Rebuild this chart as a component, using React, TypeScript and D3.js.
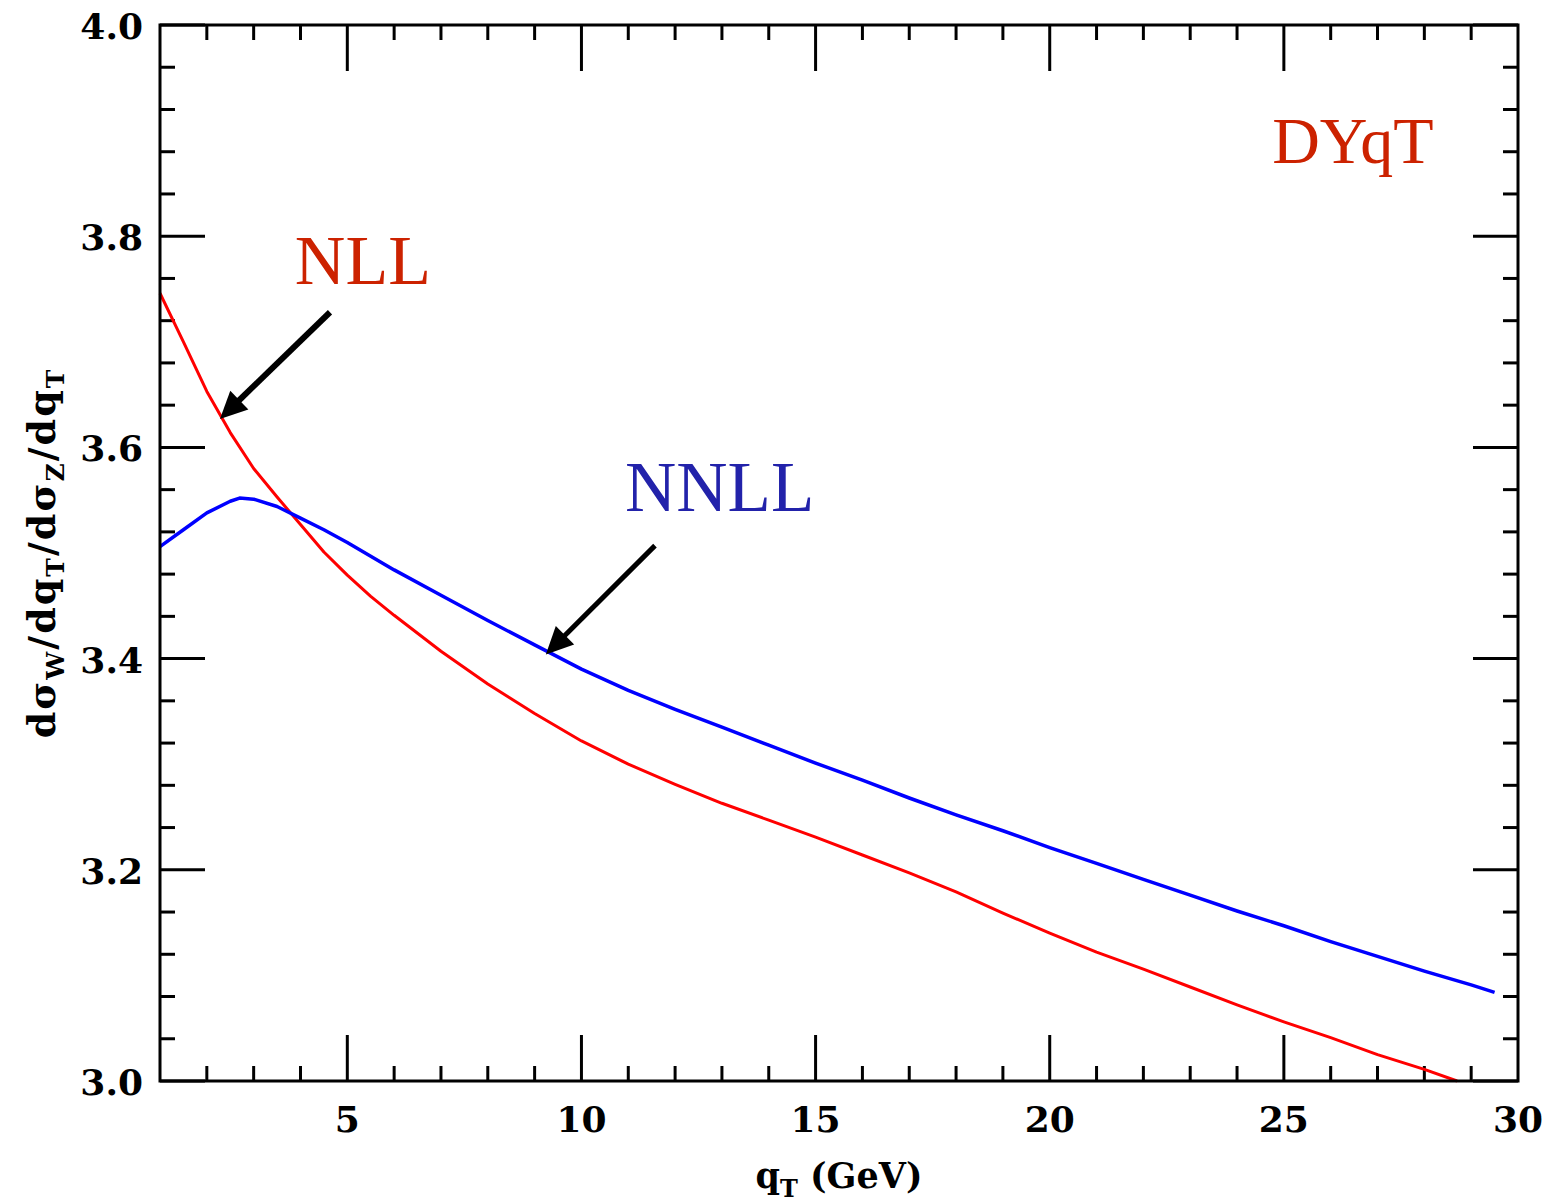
import React from "react";
import * as d3 from "d3";

const width = 1550;
const height = 1203;
const margin = { top: 25, right: 32, bottom: 122, left: 160 };

// qT grid (GeV) and the two ratio curves
const qtNLL = [1, 1.5, 2, 2.5, 3, 3.5, 4, 4.5, 5, 5.5, 6, 7, 8, 9, 10, 11, 12, 13, 14, 15, 16, 17, 18, 19, 20, 21, 22, 23, 24, 25, 26, 27, 28, 28.7];
const ratioNLL = [3.746, 3.7, 3.653, 3.614, 3.58, 3.553, 3.527, 3.501, 3.479, 3.459, 3.441, 3.407, 3.376, 3.348, 3.322, 3.3, 3.281, 3.263, 3.247, 3.231, 3.214, 3.197, 3.179, 3.159, 3.14, 3.122, 3.106, 3.089, 3.072, 3.056, 3.041, 3.025, 3.011, 3.0];

const qtNNLL = [1, 1.5, 2, 2.5, 2.7, 3, 3.5, 4, 4.5, 5, 6, 7, 8, 9, 10, 11, 12, 13, 14, 15, 16, 17, 18, 19, 20, 21, 22, 23, 24, 25, 26, 27, 28, 29, 29.5];
const ratioNNLL = [3.506, 3.522, 3.538, 3.549, 3.552, 3.551, 3.544, 3.533, 3.522, 3.51, 3.484, 3.46, 3.436, 3.413, 3.39, 3.37, 3.352, 3.335, 3.318, 3.301, 3.285, 3.268, 3.252, 3.237, 3.221, 3.206, 3.191, 3.176, 3.161, 3.147, 3.132, 3.118, 3.104, 3.091, 3.084];

const xMajor = [5, 10, 15, 20, 25, 30];
const yMajor = [3.0, 3.2, 3.4, 3.6, 3.8, 4.0];

// annotations, in data units: [tailQt, tailRatio, tipQt, tipRatio]
const arrowNLL = [4.63, 3.728, 2.28, 3.627];
const arrowNNLL = [11.57, 3.507, 9.24, 3.404];

const labelFont = "'DejaVu Serif', serif";
const romanFont = "'Liberation Serif', 'Times New Roman', serif";

function Arrow(props) {
  const { a, xScale, yScale, w } = props;
  const x0 = xScale(a[0]);
  const y0 = yScale(a[1]);
  const x1 = xScale(a[2]);
  const y1 = yScale(a[3]);
  const len = Math.hypot(x1 - x0, y1 - y0);
  const ux = (x1 - x0) / len;
  const uy = (y1 - y0) / len;
  const headLen = 27;
  const half = 13;
  const bx = x1 - ux * headLen;
  const by = y1 - uy * headLen;
  const pts = [
    [x1, y1],
    [bx - uy * half, by + ux * half],
    [bx + uy * half, by - ux * half]
  ];
  return (
    <g>
      <line x1={x0} y1={y0} x2={bx + ux * 2} y2={by + uy * 2} stroke="black" strokeWidth={w} />
      <polygon points={pts.map(p => p.join(",")).join(" ")} fill="black" />
    </g>
  );
}

export default function App() {
  const xScale = d3
    .scaleLinear()
    .domain([1, 30])
    .range([margin.left, width - margin.right]);
  const yScale = d3
    .scaleLinear()
    .domain([3, 4])
    .range([height - margin.bottom, margin.top]);

  const line = d3
    .line()
    .x(d => xScale(d[0]))
    .y(d => yScale(d[1]));

  const nll = qtNLL.map((q, i) => [q, ratioNLL[i]]);
  const nnll = qtNNLL.map((q, i) => [q, ratioNNLL[i]]);

  const x0 = xScale(1);
  const x1 = xScale(30);
  const y0 = yScale(3);
  const y1 = yScale(4);

  const xTicks = d3.range(2, 30, 1);
  const yTicks = d3.range(0, 26).map(i => 3 + i * 0.04);

  return (
    <svg
      width={width}
      height={height}
      style={{ position: "absolute", left: 0, top: 0, background: "white" }}
    >
      {/* minor + major ticks, all four sides, pointing in */}
      <g stroke="black" strokeWidth={3}>
        {xTicks.map(t => {
          const major = t % 5 === 0;
          const L = major ? 46 : 15;
          return (
            <g key={"xt" + t}>
              <line x1={xScale(t)} x2={xScale(t)} y1={y0} y2={y0 - L} />
              <line x1={xScale(t)} x2={xScale(t)} y1={y1} y2={y1 + L} />
            </g>
          );
        })}
        {yTicks.map((t, i) => {
          const major = i % 5 === 0;
          const L = major ? 45 : 15;
          return (
            <g key={"yt" + i}>
              <line x1={x0} x2={x0 + L} y1={yScale(t)} y2={yScale(t)} />
              <line x1={x1} x2={x1 - L} y1={yScale(t)} y2={yScale(t)} />
            </g>
          );
        })}
      </g>

      <path d={line(nll)} fill="none" stroke="#ff0000" strokeWidth={3} strokeLinejoin="round" />
      <path d={line(nnll)} fill="none" stroke="#0000ff" strokeWidth={3.5} strokeLinejoin="round" />

      <rect x={x0} y={y1} width={x1 - x0} height={y0 - y1} fill="none" stroke="black" strokeWidth={3} />

      {/* tick labels */}
      <g fontFamily={labelFont} fontWeight="bold" fontSize={36} fill="black">
        {xMajor.map(t => (
          <text key={"xl" + t} x={xScale(t)} y={y0 + 51} textAnchor="middle">
            {t}
          </text>
        ))}
        {yMajor.map(t => (
          <text key={"yl" + t} x={x0 - 17} y={yScale(t) + 14} textAnchor="end">
            {t.toFixed(1)}
          </text>
        ))}
      </g>

      {/* axis titles */}
      <text x={(x0 + x1) / 2} y={1188} textAnchor="middle" fontFamily={labelFont} fontWeight="bold" fontSize={35}>
        q<tspan fontSize={24} dy={9}>T</tspan>
        <tspan dy={-9}> (GeV)</tspan>
      </text>
      <text
        transform={`translate(55, ${(y0 + y1) / 2}) rotate(-90)`}
        textAnchor="middle"
        fontFamily={labelFont}
        fontWeight="bold"
        fontSize={38}
        letterSpacing={2}
      >
        dσ<tspan fontSize={25} dy={9}>W</tspan>
        <tspan dy={-9}>/dq</tspan>
        <tspan fontSize={25} dy={9}>T</tspan>
        <tspan dy={-9}>/dσ</tspan>
        <tspan fontSize={25} dy={9}>Z</tspan>
        <tspan dy={-9}>/dq</tspan>
        <tspan fontSize={25} dy={9}>T</tspan>
      </text>

      {/* annotations */}
      <text x={xScale(3.88)} y={yScale(3.755)} fontFamily={romanFont} fontSize={70} fill="#cc2200">
        NLL
      </text>
      <text x={xScale(10.93)} y={yScale(3.54)} fontFamily={romanFont} fontSize={71} fill="#2222aa">
        NNLL
      </text>
      <text x={xScale(24.75)} y={yScale(3.869)} fontFamily={romanFont} fontSize={66} fill="#cc2200">
        DYqT
      </text>
      <Arrow a={arrowNLL} xScale={xScale} yScale={yScale} w={6} />
      <Arrow a={arrowNNLL} xScale={xScale} yScale={yScale} w={5} />
    </svg>
  );
}
